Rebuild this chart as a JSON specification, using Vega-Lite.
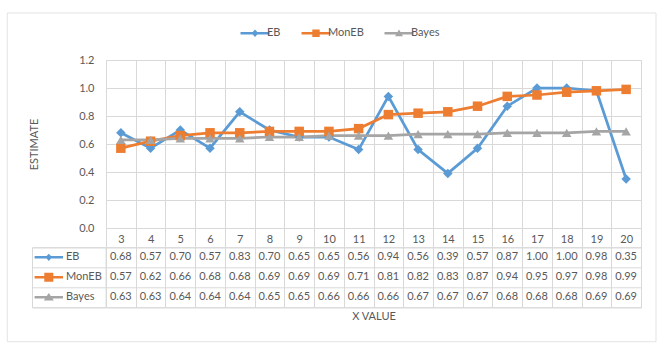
{
  "$schema": "https://vega.github.io/schema/vega-lite/v6.json",
  "padding": {"left": 7, "top": 13, "right": 5, "bottom": 5},
  "background": "white",
  "data": {"values": [
    {"x": 3, "series": "EB", "value": 0.68}, {"x": 4, "series": "EB", "value": 0.57}, {"x": 5, "series": "EB", "value": 0.70},
    {"x": 6, "series": "EB", "value": 0.57}, {"x": 7, "series": "EB", "value": 0.83}, {"x": 8, "series": "EB", "value": 0.70},
    {"x": 9, "series": "EB", "value": 0.65}, {"x": 10, "series": "EB", "value": 0.65}, {"x": 11, "series": "EB", "value": 0.56},
    {"x": 12, "series": "EB", "value": 0.94}, {"x": 13, "series": "EB", "value": 0.56}, {"x": 14, "series": "EB", "value": 0.39},
    {"x": 15, "series": "EB", "value": 0.57}, {"x": 16, "series": "EB", "value": 0.87}, {"x": 17, "series": "EB", "value": 1.00},
    {"x": 18, "series": "EB", "value": 1.00}, {"x": 19, "series": "EB", "value": 0.98}, {"x": 20, "series": "EB", "value": 0.35},
    {"x": 3, "series": "MonEB", "value": 0.57}, {"x": 4, "series": "MonEB", "value": 0.62}, {"x": 5, "series": "MonEB", "value": 0.66},
    {"x": 6, "series": "MonEB", "value": 0.68}, {"x": 7, "series": "MonEB", "value": 0.68}, {"x": 8, "series": "MonEB", "value": 0.69},
    {"x": 9, "series": "MonEB", "value": 0.69}, {"x": 10, "series": "MonEB", "value": 0.69}, {"x": 11, "series": "MonEB", "value": 0.71},
    {"x": 12, "series": "MonEB", "value": 0.81}, {"x": 13, "series": "MonEB", "value": 0.82}, {"x": 14, "series": "MonEB", "value": 0.83},
    {"x": 15, "series": "MonEB", "value": 0.87}, {"x": 16, "series": "MonEB", "value": 0.94}, {"x": 17, "series": "MonEB", "value": 0.95},
    {"x": 18, "series": "MonEB", "value": 0.97}, {"x": 19, "series": "MonEB", "value": 0.98}, {"x": 20, "series": "MonEB", "value": 0.99},
    {"x": 3, "series": "Bayes", "value": 0.63}, {"x": 4, "series": "Bayes", "value": 0.63}, {"x": 5, "series": "Bayes", "value": 0.64},
    {"x": 6, "series": "Bayes", "value": 0.64}, {"x": 7, "series": "Bayes", "value": 0.64}, {"x": 8, "series": "Bayes", "value": 0.65},
    {"x": 9, "series": "Bayes", "value": 0.65}, {"x": 10, "series": "Bayes", "value": 0.66}, {"x": 11, "series": "Bayes", "value": 0.66},
    {"x": 12, "series": "Bayes", "value": 0.66}, {"x": 13, "series": "Bayes", "value": 0.67}, {"x": 14, "series": "Bayes", "value": 0.67},
    {"x": 15, "series": "Bayes", "value": 0.67}, {"x": 16, "series": "Bayes", "value": 0.68}, {"x": 17, "series": "Bayes", "value": 0.68},
    {"x": 18, "series": "Bayes", "value": 0.68}, {"x": 19, "series": "Bayes", "value": 0.69}, {"x": 20, "series": "Bayes", "value": 0.69}
  ]},
  "columns": 2,
  "spacing": {"row": 19.3, "column": 0},
  "bounds": "flush",
  "resolve": {
    "scale": {"color": "independent", "shape": "independent", "x": "independent", "y": "independent"},
    "legend": {"color": "independent", "shape": "independent"}
  },
  "concat": [
    {
      "width": 73.6, "height": 168,
      "view": {"stroke": null},
      "mark": {"type": "point", "size": 0, "strokeWidth": 0},
      "encoding": {
        "color": {"field": "value", "type": "quantitative",
          "scale": {"domain": [0, 1.2], "range": ["rgba(255,255,255,0)", "rgba(255,255,255,0)"]},
          "legend": {"orient": "none", "legendX": -24.7, "legendY": -47, "direction": "horizontal", "title": null,
            "labelOpacity": 0, "labelFontSize": 1, "labelExpr": "''", "values": [0], "padding": 0,
            "gradientLength": 648.7, "gradientThickness": 328.7,
            "gradientStrokeColor": "#D9D9D9", "gradientStrokeWidth": 1}}
      }
    },
    {
      "width": 535, "height": 168,
      "view": {"stroke": null},
      "encoding": {
        "x": {"field": "x", "type": "ordinal",
          "scale": {"type": "band", "paddingInner": 0, "paddingOuter": 0},
          "axis": {"title": null, "labelAngle": 0, "tickBand": "extent", "grid": true, "gridColor": "#D9D9D9",
            "ticks": true, "tickSize": 19.3, "tickColor": "#D9D9D9", "domain": false, "labelPadding": -14.3,
            "labelColor": "#595959", "labelFontSize": 11}},
        "y": {"field": "value", "type": "quantitative",
          "scale": {"domain": [0, 1.2], "nice": false},
          "axis": {"title": "ESTIMATE", "values": [0, 0.2, 0.4, 0.6, 0.8, 1, 1.2], "format": ".1f",
            "grid": true, "gridColor": "#D9D9D9", "domain": false, "ticks": false, "labelPadding": 12,
            "labelColor": "#595959", "labelFontSize": 11, "titlePadding": 39, "titleFontWeight": "normal",
            "titleColor": "#595959", "titleFontSize": 11}}
      },
      "layer": [
        {
          "mark": {"type": "line", "strokeWidth": 2.75},
          "encoding": {
            "color": {"field": "series", "type": "nominal",
              "scale": {"domain": ["EB", "MonEB", "Bayes"], "range": ["#5B9BD5", "#ED7D31", "#A5A5A5"]},
              "legend": {"orient": "none", "legendX": 139, "legendY": -36.7, "direction": "horizontal", "title": null,
                "padding": 0, "symbolSize": 400, "symbolStrokeWidth": 0, "labelOffset": 2, "columnPadding": 20,
                "labelFontSize": 11, "labelColor": "#595959",
                "symbolType": {"expr": "datum.value == 'EB' ? 'M-1.45,-0.13H1.45V0.13H-1.45ZM0,-0.38L0.34,0L0,0.38L-0.34,0Z' : datum.value == 'MonEB' ? 'M-1.45,-0.13H1.45V0.13H-1.45ZM-0.37,-0.37H0.37V0.37H-0.37Z' : 'M-1.45,-0.13H1.45V0.13H-1.45ZM0,-0.38L0.4,0.3H-0.4Z'"},
                "symbolFillColor": {"expr": "datum.value == 'EB' ? '#5B9BD5' : datum.value == 'MonEB' ? '#ED7D31' : '#A5A5A5'"}}}
          }
        },
        {
          "transform": [{"filter": "datum.series == 'EB'"}],
          "mark": {"type": "point", "filled": true, "shape": "diamond", "size": 90, "opacity": 1, "color": "#5B9BD5"}
        },
        {
          "transform": [{"filter": "datum.series == 'MonEB'"}],
          "mark": {"type": "point", "filled": true, "shape": "square", "size": 90, "opacity": 1, "color": "#ED7D31"}
        },
        {
          "transform": [{"filter": "datum.series == 'Bayes'"}],
          "mark": {"type": "point", "filled": true, "shape": "triangle-up", "size": 90, "opacity": 1, "color": "#A5A5A5"}
        }
      ]
    },
    {
      "width": 73.6, "height": 60,
      "view": {"stroke": "#D9D9D9"},
      "transform": [{"aggregate": [{"op": "count", "as": "n"}], "groupby": ["series"]}],
      "encoding": {
        "y": {"field": "series", "type": "nominal", "sort": ["EB", "MonEB", "Bayes"],
          "scale": {"type": "band", "paddingInner": 0, "paddingOuter": 0},
          "axis": {"title": null, "labels": false, "ticks": false, "domain": false, "grid": true, "tickBand": "extent", "gridColor": "#D9D9D9"}}
      },
      "layer": [
        {
          "mark": {"type": "point", "filled": true, "size": 400, "strokeWidth": 0, "opacity": 1},
          "encoding": {
            "color": {"field": "series", "type": "nominal",
              "scale": {"domain": ["EB", "MonEB", "Bayes"], "range": ["#5B9BD5", "#ED7D31", "#A5A5A5"]}, "legend": null},
            "shape": {"field": "series", "type": "nominal",
              "scale": {"domain": ["EB", "MonEB", "Bayes"], "range": [
                "M-3.42,-0.13H-0.58V0.13H-3.42ZM-2,-0.36L-1.67,0L-2,0.36L-2.33,0Z",
                "M-3.42,-0.13H-0.58V0.13H-3.42ZM-2.45,-0.45H-1.55V0.45H-2.45Z",
                "M-3.42,-0.13H-0.58V0.13H-3.42ZM-2,-0.42L-1.5,0.33H-2.5Z"]}, "legend": null}
          }
        },
        {
          "mark": {"type": "text", "align": "left", "dx": -2.8, "fontSize": 11, "color": "#595959"},
          "encoding": {"text": {"field": "series", "type": "nominal"}}
        }
      ]
    },
    {
      "width": 535, "height": 60,
      "view": {"stroke": "#D9D9D9"},
      "mark": {"type": "text", "fontSize": 11, "color": "#595959"},
      "encoding": {
        "x": {"field": "x", "type": "ordinal",
          "scale": {"type": "band", "paddingInner": 0, "paddingOuter": 0},
          "axis": {"title": "X VALUE", "labels": false, "ticks": false, "domain": false, "grid": true, "tickBand": "extent",
            "gridColor": "#D9D9D9", "titlePadding": 3, "titleFontWeight": "normal", "titleColor": "#595959", "titleFontSize": 11}},
        "y": {"field": "series", "type": "nominal", "sort": ["EB", "MonEB", "Bayes"],
          "scale": {"type": "band", "paddingInner": 0, "paddingOuter": 0},
          "axis": {"title": null, "labels": false, "ticks": false, "domain": false, "grid": true, "tickBand": "extent", "gridColor": "#D9D9D9"}},
        "text": {"field": "value", "type": "quantitative", "format": ".2f"}
      }
    }
  ],
  "config": {
    "font": "Lato",
    "view": {"stroke": null}
  }
}
